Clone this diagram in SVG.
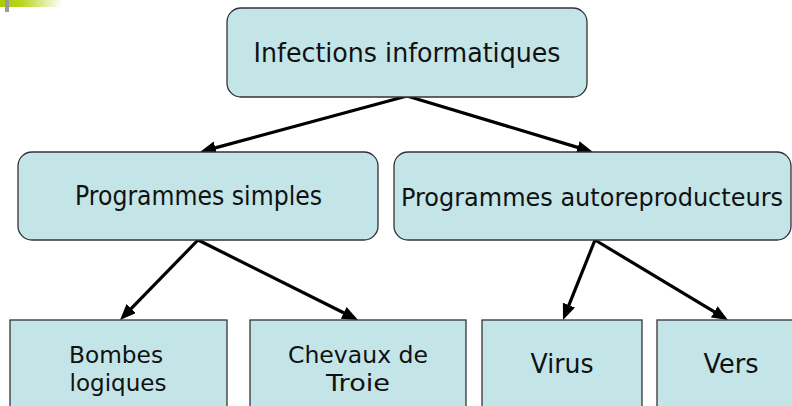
<svg xmlns="http://www.w3.org/2000/svg" width="792" height="406" viewBox="0 0 792 406">
<style>
.box{fill:#C4E5E8;stroke:#333;stroke-width:1.3}
.t{font-family:"DejaVu Sans","Liberation Sans",sans-serif;font-size:26px;fill:#111;text-anchor:middle}
.s{font-size:23px}
.m{font-size:24px}
.c{stroke:#000;stroke-width:3.2;fill:none;marker-end:url(#ah)}
</style>
<defs>
<linearGradient id="g" x1="0" y1="0" x2="1" y2="0">
<stop offset="0" stop-color="#A8CC00"/>
<stop offset="0.35" stop-color="#B6D620"/>
<stop offset="1" stop-color="#FFFFFF"/>
</linearGradient>
<marker id="ah" markerUnits="userSpaceOnUse" markerWidth="18" markerHeight="14" refX="6" refY="6.5" orient="auto">
<path d="M0,0 L16,6.5 L0,13 z" fill="#000"/>
</marker>
</defs>
<rect x="0" y="0" width="62" height="7" fill="url(#g)"/>
<rect x="5" y="0" width="4" height="12" fill="#999"/>
<g id="connectors">
<line class="c" x1="407" y1="96" x2="209.6" y2="149.4"/>
<line class="c" x1="407" y1="96" x2="583.4" y2="149.1"/>
<line class="c" x1="198" y1="240" x2="127" y2="312.8"/>
<line class="c" x1="198" y1="240" x2="349.1" y2="315.5"/>
<line class="c" x1="595" y1="240" x2="566.7" y2="310.7"/>
<line class="c" x1="595" y1="240" x2="719.4" y2="314.9"/>
</g>
<g id="infections">
<rect class="box" x="227" y="8" width="360" height="89" rx="14"/>
<text class="t" x="407" y="62" textLength="307" lengthAdjust="spacingAndGlyphs">Infections informatiques</text>
</g>
<g id="simples">
<rect class="box" x="18" y="152" width="360" height="88" rx="14"/>
<text class="t" x="198.5" y="205" textLength="247" lengthAdjust="spacingAndGlyphs">Programmes simples</text>
</g>
<g id="autoreproducteurs">
<rect class="box" x="394" y="152" width="397" height="88" rx="14"/>
<text class="t m" x="592" y="206" textLength="382" lengthAdjust="spacingAndGlyphs">Programmes autoreproducteurs</text>
</g>
<g id="bombes">
<rect class="box" x="10" y="320" width="217" height="100"/>
<text class="t s" x="116" y="363" textLength="94" lengthAdjust="spacingAndGlyphs">Bombes</text>
<text class="t s" x="118" y="391" textLength="97" lengthAdjust="spacingAndGlyphs">logiques</text>
</g>
<g id="chevaux">
<rect class="box" x="250" y="320" width="216" height="100"/>
<text class="t s" x="358" y="363" textLength="140" lengthAdjust="spacingAndGlyphs">Chevaux de</text>
<text class="t s" x="358" y="391" textLength="64" lengthAdjust="spacingAndGlyphs">Troie</text>
</g>
<g id="virus">
<rect class="box" x="482" y="320" width="160" height="100"/>
<text class="t" x="562" y="373" textLength="63" lengthAdjust="spacingAndGlyphs">Virus</text>
</g>
<g id="vers">
<rect class="box" x="657" y="320" width="160" height="100"/>
<text class="t" x="731" y="373" textLength="55" lengthAdjust="spacingAndGlyphs">Vers</text>
</g>
</svg>
